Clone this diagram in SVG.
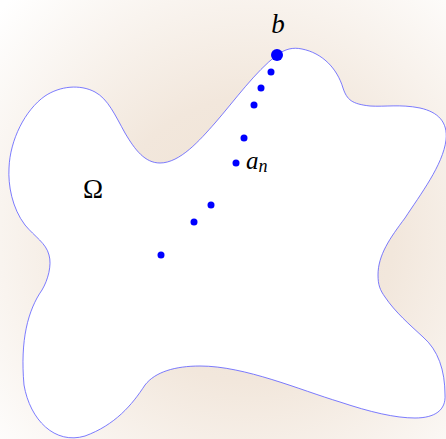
<svg xmlns="http://www.w3.org/2000/svg" width="446" height="439" viewBox="0 0 446 439">
<defs>
<radialGradient id="shade" gradientUnits="userSpaceOnUse" cx="250" cy="240" r="340">
<stop offset="0" stop-color="#efe2d4"/>
<stop offset="0.42" stop-color="#f2e7dc"/>
<stop offset="1" stop-color="#ffffff"/>
</radialGradient>
</defs>
<style>
.dot{fill:#0000ff}
.lbl{font-family:"Liberation Serif","DejaVu Serif",serif;fill:#000}
.it{font-style:italic}
</style>
<rect width="446" height="439" fill="url(#shade)"/>
<g id="omega-region">
<path fill="#ffffff" stroke="#5a5aff" stroke-width="0.8" d="M277,55 C285,49 293,47 302,49 C322,53 337,68 343,88 C347,100 352,104 370,106 C385,107 400,104 420,108 C438,112 448,122 446,140 C443,165 420,195 405,218 C390,238 378,255 378,275 C378,285 380,290 385,297 C395,312 410,325 423,337 C438,350 445,370 445,395 C446,410 435,418 415,418 C395,418 370,412 340,402 C300,390 245,366 200,366 C175,366 155,372 145,385 C132,405 115,425 85,436 C55,445 30,420 24,385 C20,340 28,310 42,290 C48,280 52,265 49,255 C46,243 35,237 25,225 C12,208 8,185 9,168 C10,140 25,110 45,96 C60,86 80,84 95,92 C108,99 115,115 125,133 C135,150 145,163 160,163 C180,163 200,140 215,123 C235,100 255,72 277,55 Z"/>
<text class="lbl" x="93" y="198" font-size="27" text-anchor="middle">Ω</text>
</g>
<g id="sequence">
<circle class="dot" cx="271" cy="72" r="3.5"/>
<circle class="dot" cx="261" cy="88" r="3.5"/>
<circle class="dot" cx="254" cy="105" r="3.5"/>
<circle class="dot" cx="244" cy="138" r="3.5"/>
<circle class="dot" cx="236" cy="163" r="3.5"/>
<circle class="dot" cx="211" cy="205" r="3.5"/>
<circle class="dot" cx="194" cy="222" r="3.5"/>
<circle class="dot" cx="161" cy="255" r="3.5"/>
<text class="lbl it" x="246" y="169" font-size="25">a<tspan font-size="18" dy="3">n</tspan></text>
</g>
<g id="b">
<circle class="dot" cx="277" cy="55" r="6"/>
<text class="lbl it" x="278" y="33" font-size="27" text-anchor="middle">b</text>
</g>
</svg>
